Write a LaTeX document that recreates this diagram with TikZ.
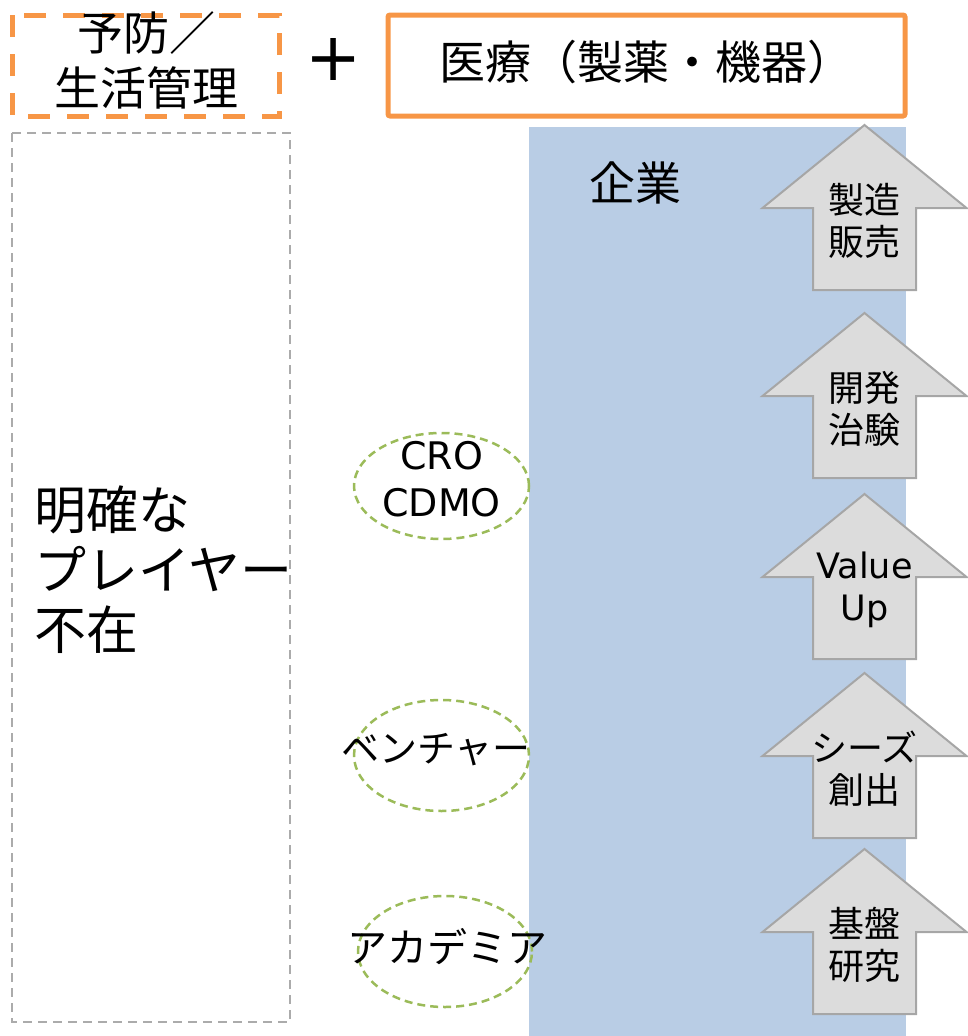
\documentclass[tikz,border=0pt]{standalone}
\usepackage{fontspec}
\setmainfont{Noto Sans CJK JP}
\newfontfamily\lat{DejaVu Sans}
\usetikzlibrary{shapes.geometric}
\definecolor{orng}{HTML}{F79646}
\definecolor{blu}{HTML}{B9CDE5}
\definecolor{grn}{HTML}{9BBB59}
\definecolor{arrfill}{HTML}{DCDCDC}
\definecolor{arrline}{HTML}{A6A6A6}
\definecolor{boxgray}{HTML}{ABABAB}
\tikzset{
  orangedash/.style={draw=orng,line width=5pt,dash pattern=on 22pt off 17pt},
  orangebox/.style={draw=orng,line width=5pt,rounded corners=2pt},
  graybox/.style={draw=boxgray,line width=2pt,dash pattern=on 9pt off 6pt},
  greenell/.style={ellipse,draw=grn,line width=2.5pt,dash pattern=on 8pt off 5pt,inner sep=0pt},
  uparr/.style={fill=arrfill,draw=arrline,line width=2pt,line join=miter},
  bigtxt/.style={font=\fontsize{46}{55}\selectfont,align=center,inner sep=0pt},
  lefttxt/.style={font=\fontsize{52}{60}\selectfont,align=left,inner sep=0pt},
  elltxt/.style={font=\fontsize{38}{47}\selectfont,align=center,inner sep=0pt},
  arrtxt/.style={font=\fontsize{36}{42}\selectfont,align=center,inner sep=0pt}
}
\newcommand\blockarrow[3]{%
  \begin{scope}[shift={(864.5,#1)}]
    \draw[uparr] (0,0) -- (102,83) -- (51.5,83) -- (51.5,165) -- (-51.5,165) -- (-51.5,83) -- (-102,83) -- cycle;
    \node[arrtxt] (#2) at (0,96) {#3};
  \end{scope}}
\begin{document}
\begin{tikzpicture}[x=1pt,y=-1pt]
\useasboundingbox (0,0) rectangle (968,1036);
% background enterprise band
\fill[blu] (529,127) rectangle (906,1036);
% top boxes
\draw[orangedash] (12,15) rectangle (279,116);
\node[bigtxt] (prev) at (146,60) {予防／\\生活管理};
\node[inner sep=0pt,font=\lat\fontsize{67}{67}\selectfont] (plus) at (334,59) {+};
\draw[orangebox] (388,15) rectangle (905,116);
\node[bigtxt] (med) at (646,62) {医療（製薬・機器）};
% left dashed box
\draw[graybox] (12,133) rectangle (290,1022);
\node[lefttxt,anchor=west] (noplayer) at (34,570) {明確な\\プレイヤー\\不在};
% enterprise label
\node[bigtxt] (corp) at (635,183) {企業};
% ellipses
\node[greenell,minimum width=175pt,minimum height=106pt] (ecro) at (441.5,486) {};
\node[elltxt,font=\lat\fontsize{38}{47}\selectfont] (cro) at (441.5,479) {CRO\\CDMO};
\node[greenell,minimum width=175pt,minimum height=111pt] (even) at (441.5,755.5) {};
\node[elltxt] (ven) at (436,750) {ベンチャー};
\node[greenell,minimum width=174pt,minimum height=111pt] (eaca) at (445,951.5) {};
\node[elltxt,font=\fontsize{40}{47}\selectfont] (aca) at (447,947) {アカデミア};
% block arrows
\blockarrow{125}{a1}{製造\\販売}
\blockarrow{313}{a2}{開発\\治験}
\blockarrow{494}{a3}{{\lat\fontsize{35}{42}\selectfont Value}\\{\lat\fontsize{35}{42}\selectfont Up}}
\blockarrow{673}{a4}{シーズ\\創出}
\blockarrow{849}{a5}{基盤\\研究}
\end{tikzpicture}
\end{document}
